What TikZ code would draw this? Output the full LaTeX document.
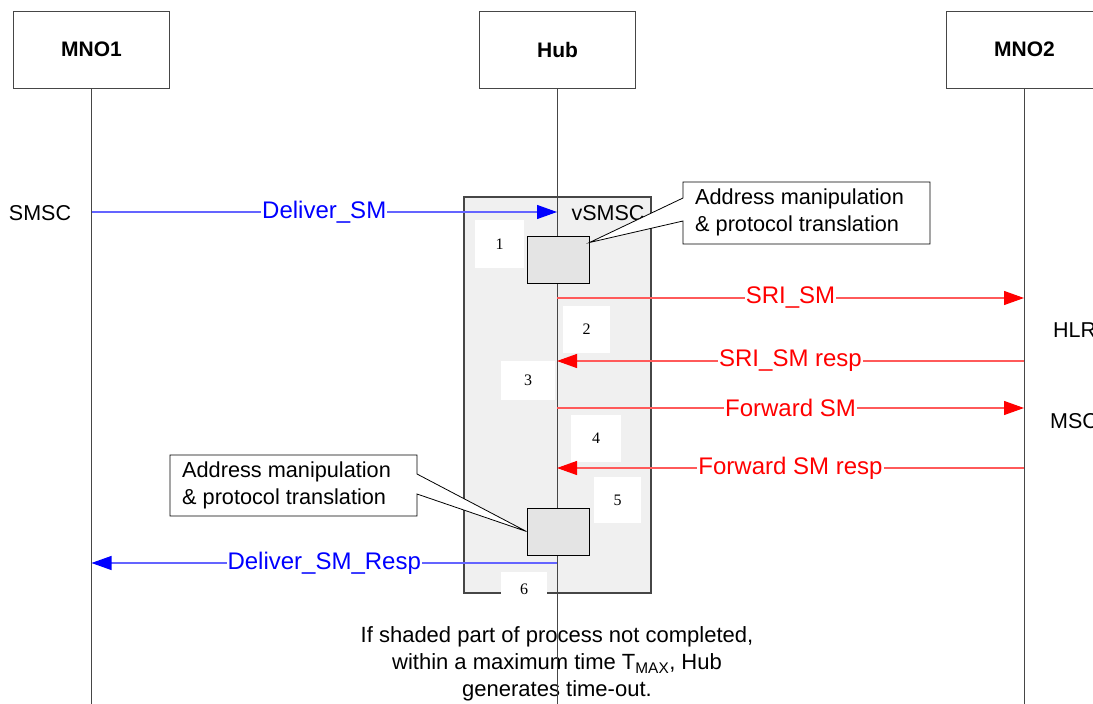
\documentclass[tikz,border=0pt]{standalone}
\usepackage{fontspec}
\setmainfont{Liberation Sans}
\newfontfamily\numfont{Liberation Serif}
\usetikzlibrary{arrows.meta}
\definecolor{msgblue}{RGB}{0,0,255}
\definecolor{lineblue}{RGB}{100,100,255}
\definecolor{msgred}{RGB}{255,0,0}
\definecolor{linered}{RGB}{255,90,90}
\definecolor{shadefill}{RGB}{240,240,240}
\definecolor{procgray}{RGB}{228,228,228}
\definecolor{edgegray}{RGB}{70,70,70}

\begin{document}
\begin{tikzpicture}[x=1pt,y=-1pt,
  headbox/.style={draw=edgegray, line width=0.8pt, fill=white, minimum width=156pt,
    minimum height=77pt, inner sep=0pt, font=\fontsize{21}{25}\selectfont\bfseries},
  life/.style={draw=edgegray, line width=0.8pt},
  bmsg/.style={draw=lineblue, line width=1.1pt,
    -{Triangle[length=20pt,width=14pt,color=msgblue,fill=msgblue]}},
  rmsg/.style={draw=linered, line width=1.1pt,
    -{Triangle[length=20pt,width=14pt,color=msgred,fill=msgred]}},
  blab/.style={fill=white, inner xsep=1pt, inner ysep=0pt, text=msgblue,
    font=\fontsize{24}{28}\selectfont},
  rlab/.style={fill=white, inner xsep=1pt, inner ysep=0pt, text=msgred,
    font=\fontsize{24}{28}\selectfont},
  plain/.style={inner sep=0pt, font=\fontsize{21.5}{27}\selectfont},
  numbox/.style={fill=white, inner sep=0pt, font=\numfont\fontsize{16}{18}\selectfont},
  procbox/.style={draw=black, line width=1pt, fill=procgray, minimum width=62pt,
    minimum height=47pt, inner sep=0pt},
  callout/.style={draw=black, line width=0.8pt, fill=white},
  notetext/.style={inner sep=0pt, align=left, font=\fontsize{21.7}{27}\selectfont}
]
\useasboundingbox (0,0) rectangle (1093,704);
\clip (0,0) rectangle (1093,704);

% shaded part of the process inside the hub
\draw[draw=edgegray, line width=1.5pt, fill=shadefill] (464,197) rectangle (651,593);
\node[plain] (vsmsc) at (608,213) {vSMSC};

% step numbers
\node[numbox, minimum width=49pt, minimum height=48pt] (n1) at (499.5,244) {1};
\node[numbox, minimum width=47pt, minimum height=47pt] (n2) at (586.5,329.5) {2};
\node[numbox, minimum width=54pt, minimum height=39pt] (n3) at (528,380.5) {3};
\node[numbox, minimum width=50pt, minimum height=47pt] (n4) at (596,438.5) {4};
\node[numbox, minimum width=47pt, minimum height=46pt] (n5) at (617.5,500) {5};
\node[numbox, minimum width=46pt, minimum height=34pt] (n6) at (524,589) {6};

% timeout note
\node[inner sep=0pt, align=center, font=\fontsize{22}{27}\selectfont] (timeout) at (557,664)
  {If shaded part of process not completed,\\
   within a maximum time T\textsubscript{MAX}, Hub\\
   generates time-out.};

% actors and lifelines
\node[headbox] (mno1) at (91.5,49.5) {MNO1};
\node[headbox] (hub) at (557.5,49.5) {Hub};
\node[headbox] (mno2) at (1024.5,49.5) {MNO2};
\coordinate (mno1end) at (91.5,704);
\coordinate (hubend) at (557,704);
\coordinate (mno2end) at (1024,704);
\draw[life] (mno1.south -| mno1end) -- (mno1end);
\draw[life] (hub.south -| hubend) -- (hubend);
\draw[life] (mno2.south -| mno2end) -- (mno2end);

% side labels
\node[plain] (smsc) at (40,213) {SMSC};
\node[plain, anchor=west] (hlr) at (1053,330) {HLR};
\node[plain, anchor=west] (msc) at (1050,421) {MSC};

% message endpoints on the lifelines
\coordinate (a1) at (mno1end |- 0,212);  \coordinate (b1) at (hubend |- 0,212);
\coordinate (a2) at (hubend |- 0,298);   \coordinate (b2) at (mno2end |- 0,298);
\coordinate (a3) at (mno2end |- 0,361);  \coordinate (b3) at (hubend |- 0,361);
\coordinate (a4) at (hubend |- 0,408);   \coordinate (b4) at (mno2end |- 0,408);
\coordinate (a5) at (mno2end |- 0,468);  \coordinate (b5) at (hubend |- 0,468);
\coordinate (a6) at (hubend |- 0,563);   \coordinate (b6) at (mno1end |- 0,563);

\draw[bmsg] (a1) -- node[blab] {Deliver\_SM} (b1);
\draw[rmsg] (a2) -- node[rlab] {SRI\_SM} (b2);
\draw[rmsg] (a3) -- node[rlab] {SRI\_SM resp} (b3);
\draw[rmsg] (a4) -- node[rlab] {Forward SM} (b4);
\draw[rmsg] (a5) -- node[rlab] {Forward SM resp} (b5);
\draw[bmsg] (a6) -- node[blab] {Deliver\_SM\_Resp} (b6);

% address manipulation steps
\node[procbox] (proc1) at (558,259.5) {};
\node[procbox] (proc2) at (558,531.5) {};

% callouts
\draw[callout] (683,182) -- (930,182) -- (930,244) -- (683,244) -- (683,221)
  -- ([yshift=-7pt]proc1.north east) -- (683,198) -- cycle;
\node[notetext, anchor=west] (note1) at (695,212.5)
  {Address manipulation\\\& protocol translation};

\draw[callout] (170,455) -- (417,455) -- (417,474) -- (proc2.west)
  -- (417,494) -- (417,516) -- (170,516) -- cycle;
\node[notetext, anchor=west] (note2) at (182,485.5)
  {Address manipulation\\\& protocol translation};
\end{tikzpicture}
\end{document}
